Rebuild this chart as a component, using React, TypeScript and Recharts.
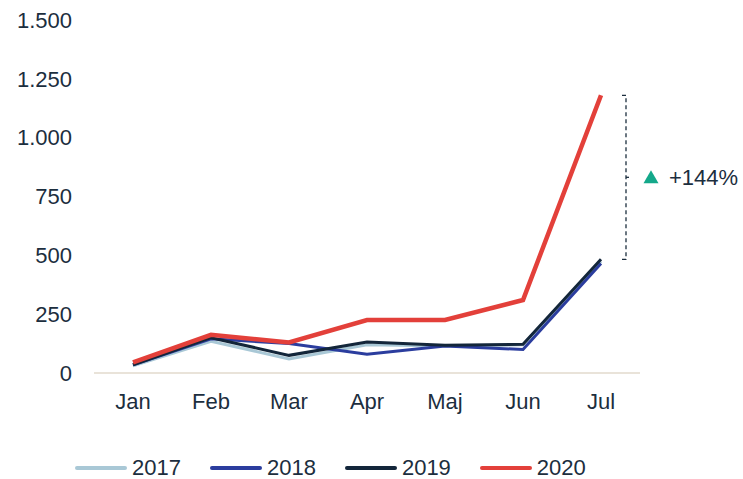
import React from 'react';
import { LineChart, Line, XAxis, YAxis, ReferenceLine } from 'recharts';

const months = ['Jan', 'Feb', 'Mar', 'Apr', 'Maj', 'Jun', 'Jul'];
const v2017 = [30, 135, 60, 120, 115, 120, 475];
const v2018 = [35, 145, 125, 80, 115, 100, 465];
const v2019 = [35, 150, 75, 132, 118, 122, 483];
const v2020 = [45, 162, 130, 225, 225, 310, 1180];
const yTicks = [0, 250, 500, 750, 1000, 1250, 1500];
const changeLabel = '+144%';

const SERIES = [
  { key: '2017', color: '#a9c8d6', width: 3 },
  { key: '2018', color: '#2b3d9e', width: 3 },
  { key: '2019', color: '#13263a', width: 3 },
  { key: '2020', color: '#e3403a', width: 4.5 },
];

const data = months.map((m, i) => ({
  month: m,
  '2017': v2017[i],
  '2018': v2018[i],
  '2019': v2019[i],
  '2020': v2020[i],
}));

const TEXT = '#1c2e3e';
const FONT = '"Liberation Sans", Arial, sans-serif';

const fmt = (v: number) => v.toLocaleString('en-US').replace(/,/g, '.');

const Bracket = (props: any) => {
  const { x1, y1, y2 } = props;
  const x = x1 + 25;
  const top = Math.min(y1, y2);
  const bot = Math.max(y1, y2);
  const mid = (top + bot) / 2;
  return (
    <g>
      <path d={`M${x - 4},${top} H${x} V${bot} H${x - 4}`} fill="none" stroke={TEXT} strokeWidth={1.3} strokeDasharray="4 3" />
      <path d={`M${x},${mid} H${x + 3}`} stroke={TEXT} strokeWidth={1.3} />
      <path d={`M${x + 25},${mid - 7} L${x + 32.5},${mid + 6} L${x + 17.5},${mid + 6} Z`} fill="#14a88a" />
      <text x={x + 43} y={mid + 8} fontSize={22} fill={TEXT} fontFamily={FONT}>{changeLabel}</text>
    </g>
  );
};

const LegendBox = () => (
  <div style={{ position: 'absolute', left: 75, top: 454, display: 'flex', fontFamily: FONT, fontSize: 22, lineHeight: '28px', color: TEXT }}>
    {SERIES.map((s) => (
      <div key={s.key} style={{ display: 'flex', alignItems: 'center', marginRight: 29 }}>
        <svg width={52} height={6} style={{ marginRight: 5 }}>
          <line x1={2} y1={3} x2={50} y2={3} stroke={s.color} strokeWidth={4} strokeLinecap="round" />
        </svg>
        <span>{s.key}</span>
      </div>
    ))}
  </div>
);

export default function App() {
  return (
    <div style={{ position: 'absolute', left: 0, top: 0, width: 743, height: 479, background: '#fff' }}>
      <LineChart width={743} height={479} data={data} margin={{ top: 20, right: 103, bottom: 76, left: 0 }}>
        <XAxis
          dataKey="month"
          height={30}
          padding={{ left: 39, right: 39 }}
          axisLine={{ stroke: '#e9e3d9', strokeWidth: 2 }}
          tickLine={false}
          tickMargin={14}
          tick={{ fill: TEXT, fontSize: 22, fontFamily: FONT }}
          interval={0}
        />
        <YAxis
          width={94}
          domain={[0, 1500]}
          ticks={yTicks}
          axisLine={false}
          tickLine={false}
          tickMargin={16}
          tickFormatter={fmt}
          tick={{ fill: TEXT, fontSize: 22, fontFamily: FONT }}
        />
        {SERIES.map((s) => (
          <Line
            key={s.key}
            type="linear"
            dataKey={s.key}
            stroke={s.color}
            strokeWidth={s.width}
            dot={false}
            activeDot={false}
            isAnimationActive={false}
          />
        ))}
        <ReferenceLine
          segment={[{ x: 'Jul', y: v2020[6] }, { x: 'Jul', y: v2019[6] }]}
          ifOverflow="visible"
          shape={Bracket}
        />
      </LineChart>
      <LegendBox />
    </div>
  );
}
